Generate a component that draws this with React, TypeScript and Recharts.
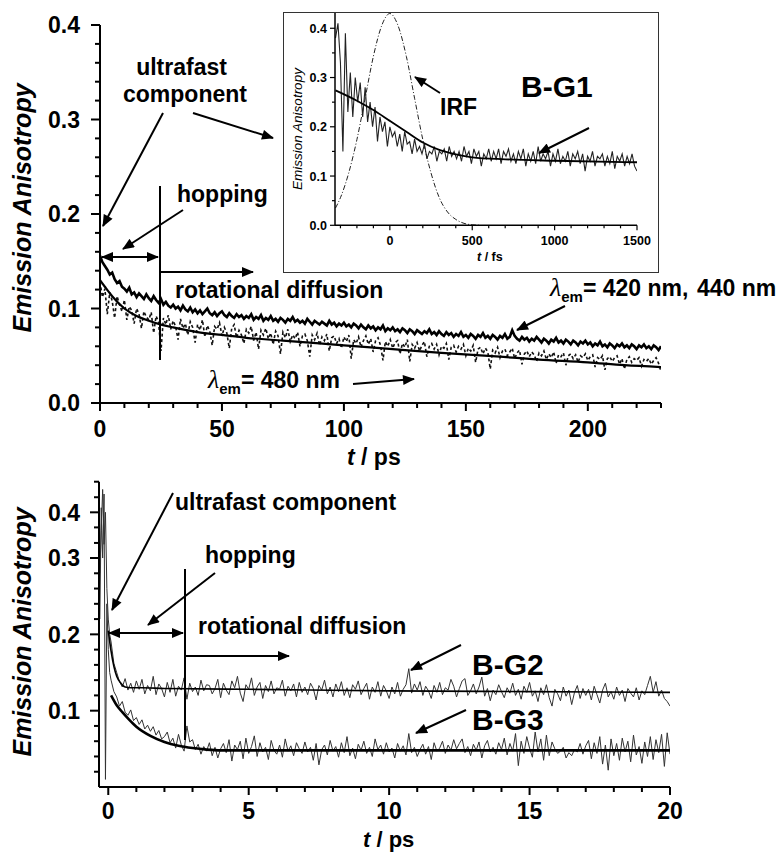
import React from "react";
import { LineChart, Line, XAxis, YAxis } from "recharts";

const FONT = '"Liberation Sans", Arial, sans-serif';
const SERIF = '"Liberation Serif", "Times New Roman", serif';

// ---------- top panel (B-G1), t in ps, 1 ps per point ----------
const em420 = [
  0.156, 0.149, 0.145, 0.141, 0.136, 0.138, 0.131, 0.127, 0.129, 0.123,
  0.121, 0.118, 0.122, 0.115, 0.117, 0.112, 0.116, 0.113, 0.110, 0.115,
  0.111, 0.108, 0.113, 0.109, 0.106, 0.110, 0.104, 0.107, 0.103, 0.101,
  0.104, 0.100, 0.102, 0.098, 0.103, 0.099, 0.097, 0.101, 0.096, 0.099,
  0.095, 0.098, 0.094, 0.097, 0.100, 0.095, 0.093, 0.096, 0.092, 0.095,
  0.097, 0.093, 0.091, 0.095, 0.092, 0.090, 0.094, 0.091, 0.093, 0.089,
  0.092, 0.090, 0.094, 0.088, 0.091, 0.089, 0.093, 0.087, 0.090, 0.088,
  0.092, 0.087, 0.089, 0.086, 0.090, 0.088, 0.085, 0.089, 0.087, 0.091,
  0.086, 0.088, 0.085, 0.087, 0.084, 0.089, 0.086, 0.083, 0.087, 0.085,
  0.083, 0.086, 0.084, 0.082, 0.087, 0.083, 0.085, 0.081, 0.084, 0.082,
  0.085, 0.081, 0.083, 0.080, 0.084, 0.082, 0.079, 0.083, 0.080, 0.078,
  0.082, 0.079, 0.081, 0.077, 0.080, 0.078, 0.082, 0.076, 0.079, 0.077,
  0.080, 0.076, 0.078, 0.075, 0.079, 0.077, 0.074, 0.078, 0.076, 0.073,
  0.077, 0.075, 0.073, 0.076, 0.074, 0.078, 0.073, 0.075, 0.072, 0.076,
  0.073, 0.071, 0.075, 0.072, 0.074, 0.070, 0.073, 0.071, 0.075, 0.070,
  0.072, 0.069, 0.073, 0.071, 0.068, 0.072, 0.070, 0.074, 0.069, 0.071,
  0.068, 0.072, 0.070, 0.067, 0.071, 0.069, 0.073, 0.068, 0.070, 0.077,
  0.071, 0.068, 0.066, 0.070, 0.067, 0.069, 0.065, 0.068, 0.066, 0.070,
  0.067, 0.064, 0.068, 0.066, 0.063, 0.067, 0.065, 0.069, 0.064, 0.066,
  0.063, 0.067, 0.065, 0.062, 0.066, 0.064, 0.061, 0.065, 0.063, 0.066,
  0.062, 0.064, 0.060, 0.063, 0.061, 0.065, 0.060, 0.062, 0.059, 0.063,
  0.061, 0.058, 0.062, 0.060, 0.063, 0.059, 0.061, 0.058, 0.062, 0.060,
  0.057, 0.061, 0.059, 0.062, 0.058, 0.060, 0.057, 0.061, 0.059, 0.056,
  0.060,
];

const em480 = [
  0.128, 0.112, 0.121, 0.094, 0.117, 0.108, 0.090, 0.113, 0.104, 0.097,
  0.109, 0.088, 0.102, 0.098, 0.084, 0.100, 0.094, 0.079, 0.097, 0.091,
  0.088, 0.096, 0.074, 0.092, 0.086, 0.055, 0.090, 0.083, 0.093, 0.078,
  0.087, 0.081, 0.067, 0.089, 0.079, 0.084, 0.072, 0.086, 0.080, 0.064,
  0.083, 0.077, 0.088, 0.070, 0.082, 0.076, 0.061, 0.081, 0.078, 0.085,
  0.071, 0.080, 0.074, 0.058, 0.079, 0.083, 0.069, 0.077, 0.072, 0.063,
  0.078, 0.074, 0.081, 0.066, 0.075, 0.057, 0.077, 0.072, 0.079, 0.068,
  0.074, 0.062, 0.076, 0.071, 0.052, 0.075, 0.069, 0.078, 0.065, 0.072,
  0.068, 0.075, 0.060, 0.071, 0.073, 0.066, 0.049, 0.072, 0.067, 0.074,
  0.061, 0.070, 0.066, 0.073, 0.055, 0.069, 0.071, 0.063, 0.068, 0.058,
  0.070, 0.065, 0.072, 0.047, 0.067, 0.063, 0.070, 0.059, 0.066, 0.071,
  0.062, 0.068, 0.054, 0.066, 0.069, 0.061, 0.045, 0.065, 0.060, 0.067,
  0.058, 0.064, 0.066, 0.052, 0.063, 0.059, 0.067, 0.044, 0.062, 0.058,
  0.064, 0.055, 0.061, 0.065, 0.049, 0.060, 0.063, 0.057, 0.062, 0.051,
  0.060, 0.058, 0.063, 0.046, 0.059, 0.061, 0.054, 0.060, 0.057, 0.062,
  0.050, 0.058, 0.055, 0.061, 0.043, 0.057, 0.059, 0.052, 0.058, 0.054,
  0.036, 0.056, 0.053, 0.059, 0.048, 0.055, 0.057, 0.050, 0.054, 0.058,
  0.047, 0.053, 0.056, 0.041, 0.052, 0.055, 0.049, 0.054, 0.051, 0.044,
  0.053, 0.050, 0.055, 0.046, 0.052, 0.048, 0.054, 0.042, 0.051, 0.049,
  0.053, 0.040, 0.050, 0.052, 0.047, 0.051, 0.043, 0.050, 0.048, 0.052,
  0.045, 0.049, 0.051, 0.038, 0.048, 0.046, 0.050, 0.035, 0.047, 0.049,
  0.044, 0.048, 0.050, 0.041, 0.047, 0.036, 0.046, 0.049, 0.043, 0.047,
  0.045, 0.048, 0.039, 0.046, 0.044, 0.047, 0.041, 0.045, 0.048, 0.042,
  0.033,
];

const topFitT = [0, 2, 5, 10, 15, 20, 25, 30, 40, 50, 60, 75, 90, 100, 120, 140, 164, 180, 200, 215, 230];
const topFitV = [0.13, 0.123, 0.113, 0.1, 0.092, 0.087, 0.083, 0.08, 0.075, 0.072, 0.069, 0.066, 0.063, 0.061, 0.057, 0.053, 0.049, 0.046, 0.043, 0.04, 0.038];

const topXTicks = [0, 10, 20, 30, 40, 50, 60, 70, 80, 90, 100, 110, 120, 130, 140, 150, 160, 170, 180, 190, 200, 210, 220, 230];
const topYTicks = [0, 0.02, 0.04, 0.06, 0.08, 0.1, 0.12, 0.14, 0.16, 0.18, 0.2, 0.22, 0.24, 0.26, 0.28, 0.3, 0.32, 0.34, 0.36, 0.38, 0.4];

// ---------- inset, t in fs ----------
const insetT0 = -330;
const insetStep = 15;
const insetVals = [
  0.38, 0.41, 0.33, 0.15, 0.39, 0.23, 0.31, 0.22, 0.30, 0.25,
  0.29, 0.22, 0.28, 0.21, 0.25, 0.20, 0.24, 0.17, 0.22, 0.19,
  0.21, 0.16, 0.20, 0.18, 0.19, 0.16, 0.185, 0.15, 0.19, 0.165,
  0.17, 0.145, 0.175, 0.15, 0.16, 0.145, 0.165, 0.135, 0.15, 0.145,
  0.16, 0.13, 0.15, 0.145, 0.155, 0.13, 0.16, 0.14, 0.15, 0.135,
  0.15, 0.13, 0.16, 0.14, 0.15, 0.125, 0.155, 0.14, 0.15, 0.12,
  0.145, 0.135, 0.155, 0.13, 0.15, 0.135, 0.155, 0.125, 0.15, 0.14,
  0.155, 0.13, 0.145, 0.125, 0.15, 0.135, 0.155, 0.12, 0.145, 0.13,
  0.15, 0.125, 0.16, 0.13, 0.145, 0.135, 0.15, 0.12, 0.145, 0.13,
  0.155, 0.125, 0.14, 0.13, 0.15, 0.12, 0.145, 0.135, 0.15, 0.125,
  0.145, 0.11, 0.14, 0.13, 0.15, 0.12, 0.14, 0.135, 0.145, 0.12,
  0.14, 0.125, 0.15, 0.115, 0.14, 0.13, 0.145, 0.12, 0.14, 0.125,
  0.145, 0.12, 0.11,
];
const insetFitT = [-330, -200, -100, 0, 100, 200, 300, 400, 500, 700, 1000, 1500];
const insetFitV = [0.274, 0.253, 0.234, 0.212, 0.19, 0.168, 0.153, 0.144, 0.138, 0.134, 0.131, 0.128];
const irfT = [-330, -300, -250, -200, -150, -100, -50, 0, 50, 100, 150, 200, 250, 300, 350, 400, 450, 500, 550];
const irfV = [0.035, 0.056, 0.106, 0.174, 0.258, 0.343, 0.405, 0.43, 0.405, 0.343, 0.258, 0.174, 0.106, 0.056, 0.027, 0.012, 0.004, 0.001, 0];
const insetXTicks = [-300, -200, -100, 0, 100, 200, 300, 400, 500, 600, 700, 800, 900, 1000, 1100, 1200, 1300, 1400, 1500];
const insetYTicks = [0, 0.05, 0.1, 0.15, 0.2, 0.25, 0.3, 0.35, 0.4];

// ---------- bottom panel (B-G2, B-G3), t in ps ----------
const earlyT = [-0.3, -0.25, -0.2, -0.15, -0.1, -0.05, 0, 0.05];
const bg2Early = [0.28, 0.36, 0.45, 0.33, 0.4, 0.26, 0.22, 0.2];
const bg3Early = [0.22, 0.41, 0.3, 0.44, 0.01, 0.24, 0.18, 0.15];
// from 0.1 ps on, 0.1 ps per point
const bg2Vals = [
  0.190, 0.162, 0.150, 0.138, 0.131, 0.142, 0.127, 0.136, 0.124, 0.139,
  0.128, 0.141, 0.122, 0.133, 0.126, 0.145, 0.121, 0.135, 0.129, 0.118,
  0.137, 0.124, 0.141, 0.119, 0.132, 0.127, 0.143, 0.115, 0.136, 0.125,
  0.131, 0.120, 0.140, 0.126, 0.134, 0.133, 0.122, 0.129, 0.141, 0.117,
  0.136, 0.127, 0.121, 0.139, 0.130, 0.145, 0.123, 0.112, 0.134, 0.128,
  0.143, 0.120, 0.131, 0.137, 0.116, 0.133, 0.125, 0.139, 0.122, 0.130,
  0.128, 0.140, 0.119, 0.132, 0.126, 0.135, 0.118, 0.137, 0.124, 0.131,
  0.121, 0.136, 0.129, 0.114, 0.133, 0.127, 0.140, 0.122, 0.131, 0.118,
  0.135, 0.125, 0.138, 0.120, 0.130, 0.117, 0.134, 0.128, 0.139, 0.121,
  0.129, 0.136, 0.115, 0.131, 0.124, 0.138, 0.119, 0.133, 0.126, 0.116,
  0.131, 0.122, 0.137, 0.119, 0.128, 0.134, 0.155, 0.123, 0.135, 0.127,
  0.138, 0.120, 0.132, 0.126, 0.116, 0.133, 0.124, 0.137, 0.121, 0.130,
  0.127, 0.141, 0.132, 0.118, 0.129, 0.139, 0.142, 0.120, 0.126, 0.135,
  0.122, 0.131, 0.144, 0.119, 0.129, 0.113, 0.127, 0.121, 0.134, 0.125,
  0.117, 0.130, 0.123, 0.136, 0.120, 0.128, 0.115, 0.132, 0.124, 0.137,
  0.119, 0.126, 0.112, 0.130, 0.121, 0.134, 0.117, 0.106, 0.128, 0.122,
  0.113, 0.131, 0.119, 0.127, 0.108, 0.124, 0.133, 0.116, 0.129, 0.120,
  0.128, 0.114, 0.132, 0.121, 0.110, 0.127, 0.136, 0.118, 0.125, 0.115,
  0.131, 0.120, 0.127, 0.112, 0.129, 0.123, 0.118, 0.130, 0.114, 0.126,
  0.121, 0.133, 0.145, 0.124, 0.138, 0.119, 0.127, 0.116, 0.112, 0.106,
];
const bg3Vals = [
  0.140, 0.125, 0.118, 0.106, 0.112, 0.098, 0.094, 0.101, 0.087, 0.091,
  0.082, 0.088, 0.076, 0.081, 0.073, 0.079, 0.068, 0.074, 0.063, 0.066,
  0.072, 0.058, 0.064, 0.051, 0.069, 0.055, 0.047, 0.080, 0.059, 0.062,
  0.049, 0.056, 0.043, 0.053, 0.047, 0.058, 0.041, 0.052, 0.038, 0.050,
  0.057, 0.045, 0.062, 0.034, 0.055, 0.049, 0.060, 0.037, 0.064, 0.044,
  0.053, 0.067, 0.040, 0.058, 0.046, 0.052, 0.036, 0.061, 0.048, 0.043,
  0.055, 0.039, 0.063, 0.047, 0.054, 0.041, 0.058, 0.050, 0.044, 0.059,
  0.046, 0.052, 0.035, 0.057, 0.029, 0.049, 0.055, 0.042, 0.061, 0.047,
  0.053, 0.039, 0.058, 0.045, 0.066, 0.041, 0.051, 0.037, 0.056, 0.048,
  0.060, 0.044, 0.052, 0.040, 0.063, 0.049, 0.055, 0.043, 0.058, 0.046,
  0.051, 0.038, 0.057, 0.047, 0.054, 0.042, 0.070, 0.045, 0.052, 0.040,
  0.049, 0.056, 0.043, 0.053, 0.036, 0.058, 0.047, 0.051, 0.060, 0.044,
  0.055, 0.048, 0.062, 0.050, 0.057, 0.063, 0.045, 0.053, 0.041, 0.056,
  0.048, 0.059, 0.038, 0.054, 0.061, 0.046, 0.052, 0.043, 0.058, 0.049,
  0.064, 0.042, 0.057, 0.047, 0.070, 0.028, 0.060, 0.044, 0.066, 0.051,
  0.039, 0.072, 0.046, 0.063, 0.035, 0.068, 0.041, 0.059, 0.050, 0.044,
  0.047, 0.052, 0.038, 0.045, 0.041, 0.049, 0.046, 0.057, 0.043, 0.054,
  0.061, 0.037, 0.058, 0.044, 0.066, 0.030, 0.055, 0.022, 0.063, 0.041,
  0.057, 0.035, 0.064, 0.046, 0.060, 0.033, 0.068, 0.042, 0.053, 0.031,
  0.059, 0.040, 0.066, 0.036, 0.062, 0.045, 0.069, 0.027, 0.071, 0.043,
];
const bg2FitT = [0, 0.1, 0.2, 0.3, 0.45, 0.6, 0.8, 1.2, 2, 5, 10, 15, 20];
const bg2FitV = [0.205, 0.178, 0.158, 0.145, 0.136, 0.131, 0.13, 0.13, 0.129, 0.128, 0.126, 0.125, 0.124];
const bg3FitT = [0.1, 0.3, 0.5, 0.75, 1, 1.5, 2, 2.5, 3, 3.5, 4, 5, 10, 15, 20];
const bg3FitV = [0.12, 0.107, 0.098, 0.088, 0.079, 0.067, 0.059, 0.054, 0.051, 0.049, 0.048, 0.048, 0.048, 0.048, 0.048];

const botXTicks = [0, 1, 2, 3, 4, 5, 6, 7, 8, 9, 10, 11, 12, 13, 14, 15, 16, 17, 18, 19, 20];
const botYTicks = [0.02, 0.04, 0.06, 0.08, 0.1, 0.12, 0.14, 0.16, 0.18, 0.2, 0.22, 0.24, 0.26, 0.28, 0.3, 0.333, 0.367, 0.4, 0.433, 0.467];

// ---------- helpers ----------
const gridSeries = (t0: number, step: number, vals: number[]) =>
  vals.map((v, i) => ({ t: +(t0 + i * step).toFixed(3), v }));
const pairSeries = (ts: number[], vs: number[]) => ts.map((t, i) => ({ t, v: vs[i] }));

const em420Data = gridSeries(0, 1, em420);
const em480Data = gridSeries(0, 1, em480);
const topFitData = pairSeries(topFitT, topFitV);
const insetData = gridSeries(insetT0, insetStep, insetVals);
const insetFitData = pairSeries(insetFitT, insetFitV);
const irfData = pairSeries(irfT, irfV);
const bg2Data = pairSeries(earlyT, bg2Early).concat(gridSeries(0.1, 0.1, bg2Vals));
const bg3Data = pairSeries(earlyT, bg3Early).concat(gridSeries(0.1, 0.1, bg3Vals));
const bg2FitData = pairSeries(bg2FitT, bg2FitV);
const bg3FitData = pairSeries(bg3FitT, bg3FitV);

// the lower panel's y axis is stretched below 0.3 and squeezed above it
function brokenScale(breakAt: number, breakFrac: number): any {
  let dom = [0, 1];
  let rng = [0, 1];
  const s: any = (v: number) => {
    const span = dom[1] - dom[0];
    const t = (v - dom[0]) / span;
    const b = (breakAt - dom[0]) / span;
    const f = t <= b ? (t / b) * breakFrac : breakFrac + ((t - b) / (1 - b)) * (1 - breakFrac);
    return rng[0] + f * (rng[1] - rng[0]);
  };
  s.domain = (d?: any[]) => {
    if (!d) return dom.slice();
    dom = [Number(d[0]), Number(d[d.length - 1])];
    return s;
  };
  s.range = (r?: any[]) => {
    if (!r) return rng.slice();
    rng = [Number(r[0]), Number(r[r.length - 1])];
    return s;
  };
  s.copy = () => brokenScale(breakAt, breakFrac).domain(dom).range(rng);
  s.ticks = () => botYTicks;
  s.invert = (px: number) => {
    const f = (px - rng[0]) / (rng[1] - rng[0]);
    const span = dom[1] - dom[0];
    const b = (breakAt - dom[0]) / span;
    const t = f <= breakFrac ? (f / breakFrac) * b : b + ((f - breakFrac) / (1 - breakFrac)) * (1 - b);
    return dom[0] + t * span;
  };
  return s;
}

const isTenth = (v: number) => Math.abs(v * 10 - Math.round(v * 10)) < 1e-6;

type TickOpts = {
  side: "left" | "bottom";
  major: (v: number) => boolean;
  label: (v: number) => string;
  majorLen: number;
  minorLen: number;
  fontSize: number;
  gap: number;
  width: number;
};

function axisTick(o: TickOpts) {
  return (props: any) => {
    const { x, y, payload } = props;
    const v = Number(payload.value);
    const major = o.major(v);
    const len = major ? o.majorLen : o.minorLen;
    const txt = {
      fontFamily: FONT,
      fontWeight: "bold" as const,
      fontSize: o.fontSize,
      fill: "#000",
    };
    if (o.side === "left") {
      return (
        <g>
          <line x1={x - len} y1={y} x2={x} y2={y} stroke="#000" strokeWidth={o.width} />
          {major && (
            <text x={x - o.gap} y={y} dy="0.36em" textAnchor="end" {...txt}>
              {o.label(v)}
            </text>
          )}
        </g>
      );
    }
    return (
      <g>
        <line x1={x} y1={y} x2={x} y2={y + len} stroke="#000" strokeWidth={o.width} />
        {major && (
          <text x={x} y={y + o.gap} textAnchor="middle" {...txt}>
            {o.label(v)}
          </text>
        )}
      </g>
    );
  };
}

const axisLine = { stroke: "#000", strokeWidth: 2 };

function Arrow({ x1, y1, x2, y2, both }: { x1: number; y1: number; x2: number; y2: number; both?: boolean }) {
  return (
    <line
      x1={x1}
      y1={y1}
      x2={x2}
      y2={y2}
      stroke="#000"
      strokeWidth={2}
      markerEnd="url(#head)"
      markerStart={both ? "url(#head)" : undefined}
    />
  );
}

function Label({ x, y, children, size = 23, anchor = "start" }: any) {
  return (
    <text x={x} y={y} fontFamily={FONT} fontWeight="bold" fontSize={size} textAnchor={anchor} fill="#000">
      {children}
    </text>
  );
}

function Lambda({ x, y, rest }: { x: number; y: number; rest: React.ReactNode }) {
  return (
    <text x={x} y={y} fontFamily={FONT} fontWeight="bold" fontSize={23} fill="#000">
      <tspan fontFamily={SERIF} fontStyle="italic" fontWeight="normal" fontSize={26}>λ</tspan>
      <tspan fontSize={15} dy={6}>em</tspan>
      <tspan dy={-6}>{rest}</tspan>
    </text>
  );
}

export default function App() {
  return (
    <div style={{ position: "absolute", left: 0, top: 0, width: 783, height: 853, background: "#fff" }}>
      {/* top panel */}
      <div style={{ position: "absolute", left: 0, top: 0 }}>
        <LineChart width={783} height={480} margin={{ top: 25, right: 122, bottom: 17, left: 40 }}>
          <XAxis
            type="number"
            dataKey="t"
            domain={[0, 230]}
            ticks={topXTicks}
            interval={0}
            allowDataOverflow
            height={60}
            axisLine={axisLine}
            tickLine={false}
            tickSize={0}
            tickMargin={0}
            tick={axisTick({ side: "bottom", major: (v) => v % 50 === 0, label: (v) => String(v), majorLen: 8, minorLen: 5, fontSize: 23, gap: 34, width: 2 })}
          />
          <YAxis
            type="number"
            domain={[0, 0.4]}
            ticks={topYTicks}
            interval={0}
            allowDataOverflow
            width={60}
            axisLine={axisLine}
            tickLine={false}
            tickSize={0}
            tickMargin={0}
            tick={axisTick({ side: "left", major: isTenth, label: (v) => v.toFixed(1), majorLen: 9, minorLen: 5, fontSize: 23, gap: 20, width: 2 })}
          />
          <Line data={em480Data} dataKey="v" type="linear" stroke="#111" strokeWidth={1.6} strokeDasharray="3 2.5" dot={false} isAnimationActive={false} />
          <Line data={em420Data} dataKey="v" type="linear" stroke="#000" strokeWidth={2.6} dot={false} isAnimationActive={false} />
          <Line data={topFitData} dataKey="v" type="monotone" stroke="#000" strokeWidth={2.2} dot={false} isAnimationActive={false} />
        </LineChart>
      </div>

      {/* inset frame */}
      <div
        style={{
          position: "absolute",
          left: 283,
          top: 12,
          width: 376,
          height: 261,
          boxSizing: "border-box",
          border: "1.5px solid #333",
          background: "#fff",
        }}
      />
      <div style={{ position: "absolute", left: 284, top: 12 }}>
        <LineChart width={375} height={261} margin={{ top: 1, right: 22, bottom: 17.7, left: 21 }}>
          <XAxis
            type="number"
            dataKey="t"
            domain={[-333, 1500]}
            ticks={insetXTicks}
            interval={0}
            allowDataOverflow
            height={30}
            axisLine={{ stroke: "#000", strokeWidth: 1.5 }}
            tickLine={false}
            tickSize={0}
            tickMargin={0}
            tick={axisTick({ side: "bottom", major: (v) => v % 500 === 0, label: (v) => String(v), majorLen: 5, minorLen: 3, fontSize: 12.5, gap: 20, width: 1.2 })}
          />
          <YAxis
            type="number"
            domain={[0, 0.431]}
            ticks={insetYTicks}
            interval={0}
            allowDataOverflow
            width={30}
            axisLine={{ stroke: "#000", strokeWidth: 1.5 }}
            tickLine={false}
            tickSize={0}
            tickMargin={0}
            tick={axisTick({ side: "left", major: isTenth, label: (v) => v.toFixed(1), majorLen: 5, minorLen: 3, fontSize: 12.5, gap: 8, width: 1.2 })}
          />
          <Line data={irfData} dataKey="v" type="monotone" stroke="#222" strokeWidth={1} strokeDasharray="5 2 1 2" dot={false} isAnimationActive={false} />
          <Line data={insetData} dataKey="v" type="linear" stroke="#222" strokeWidth={1.1} dot={false} isAnimationActive={false} />
          <Line data={insetFitData} dataKey="v" type="monotone" stroke="#000" strokeWidth={1.8} dot={false} isAnimationActive={false} />
        </LineChart>
      </div>

      {/* bottom panel */}
      <div style={{ position: "absolute", left: 0, top: 460 }}>
        <LineChart width={783} height={393} margin={{ top: 21.7, right: 113, bottom: 16, left: 39 }}>
          <XAxis
            type="number"
            dataKey="t"
            domain={[-0.33, 20]}
            ticks={botXTicks}
            interval={0}
            allowDataOverflow
            height={50}
            axisLine={axisLine}
            tickLine={false}
            tickSize={0}
            tickMargin={0}
            tick={axisTick({ side: "bottom", major: (v) => v % 5 === 0, label: (v) => String(v), majorLen: 8, minorLen: 5, fontSize: 23, gap: 32, width: 2 })}
          />
          <YAxis
            type="number"
            domain={[0, 0.467]}
            scale={brokenScale(0.3, 0.75)}
            ticks={botYTicks}
            interval={0}
            allowDataOverflow
            width={60}
            axisLine={axisLine}
            tickLine={false}
            tickSize={0}
            tickMargin={0}
            tick={axisTick({ side: "left", major: isTenth, label: (v) => v.toFixed(1), majorLen: 9, minorLen: 5, fontSize: 23, gap: 19, width: 2 })}
          />
          <Line data={bg2Data} dataKey="v" type="linear" stroke="#333" strokeWidth={1} dot={false} isAnimationActive={false} />
          <Line data={bg3Data} dataKey="v" type="linear" stroke="#333" strokeWidth={1} dot={false} isAnimationActive={false} />
          <Line data={bg2FitData} dataKey="v" type="monotone" stroke="#000" strokeWidth={1.6} dot={false} isAnimationActive={false} />
          <Line data={bg3FitData} dataKey="v" type="monotone" stroke="#000" strokeWidth={2.6} dot={false} isAnimationActive={false} />
        </LineChart>
      </div>

      {/* annotations */}
      <svg width={783} height={853} style={{ position: "absolute", left: 0, top: 0, pointerEvents: "none" }}>
        <defs>
          <marker id="head" viewBox="0 0 12 10" refX="11" refY="5" markerWidth={13} markerHeight={10} markerUnits="userSpaceOnUse" orient="auto-start-reverse">
            <path d="M0,0 L12,5 L0,10 z" fill="#000" />
          </marker>
        </defs>

        {/* axis titles */}
        <text x={31} y={208} transform="rotate(-90 31 208)" textAnchor="middle" fontFamily={FONT} fontWeight="bold" fontStyle="italic" fontSize={25}>
          Emission Anisotropy
        </text>
        <text x={31} y={632} transform="rotate(-90 31 632)" textAnchor="middle" fontFamily={FONT} fontWeight="bold" fontStyle="italic" fontSize={25}>
          Emission Anisotropy
        </text>
        <text x={302} y={129} transform="rotate(-90 302 129)" textAnchor="middle" fontFamily={FONT} fontStyle="italic" fontSize={13.5}>
          Emission Anisotropy
        </text>
        <Label x={347} y={465}>
          <tspan fontStyle="italic">t</tspan> / ps
        </Label>
        <Label x={363} y={847} size={22}>
          <tspan fontStyle="italic">t</tspan> / ps
        </Label>
        <Label x={477} y={261} size={12.5}>
          <tspan fontStyle="italic">t</tspan> / fs
        </Label>

        {/* top panel notes */}
        <Label x={181.5} y={75} anchor="middle">ultrafast</Label>
        <Label x={185} y={102} anchor="middle">component</Label>
        <Arrow x1={163} y1={113} x2={103} y2={226} />
        <Arrow x1={193} y1={113} x2={273} y2={138} />
        <Label x={177} y={202}>hopping</Label>
        <Arrow x1={183} y1={210} x2={123} y2={249} />
        <Arrow x1={102} y1={257} x2={158} y2={257} both />
        <line x1={160} y1={186} x2={160} y2={360} stroke="#000" strokeWidth={2} />
        <Arrow x1={161} y1={272} x2={253} y2={272} />
        <Label x={175} y={298}>rotational diffusion</Label>
        <Lambda x={550} y={296} rest={<>= 420 nm,<tspan x={697}>440 nm</tspan></>} />
        <Arrow x1={565} y1={306} x2={517} y2={330} />
        <Lambda x={208} y={388} rest="= 480 nm" />
        <Arrow x1={353} y1={384} x2={414} y2={379} />

        {/* inset notes */}
        <Label x={521} y={97} size={30}>B-G1</Label>
        <Arrow x1={589} y1={128} x2={539} y2={153} />
        <Label x={440} y={115} size={23}>IRF</Label>
        <Arrow x1={440} y1={93} x2={415} y2={77} />

        {/* bottom panel notes */}
        <Label x={175} y={510}>ultrafast component</Label>
        <Arrow x1={173} y1={493} x2={112} y2={610} />
        <Label x={205} y={563}>hopping</Label>
        <Arrow x1={215} y1={573} x2={148} y2={625} />
        <Arrow x1={109} y1={633} x2={183} y2={633} both />
        <line x1={185} y1={569} x2={185} y2={740} stroke="#000" strokeWidth={2} />
        <Arrow x1={186} y1={656} x2={289} y2={656} />
        <Label x={198} y={634}>rotational diffusion</Label>
        <Label x={472} y={675} size={30}>B-G2</Label>
        <Arrow x1={461} y1={645} x2={411} y2={670} />
        <Label x={472} y={730} size={30}>B-G3</Label>
        <Arrow x1={466} y1={710} x2={416} y2={733} />
      </svg>
    </div>
  );
}
